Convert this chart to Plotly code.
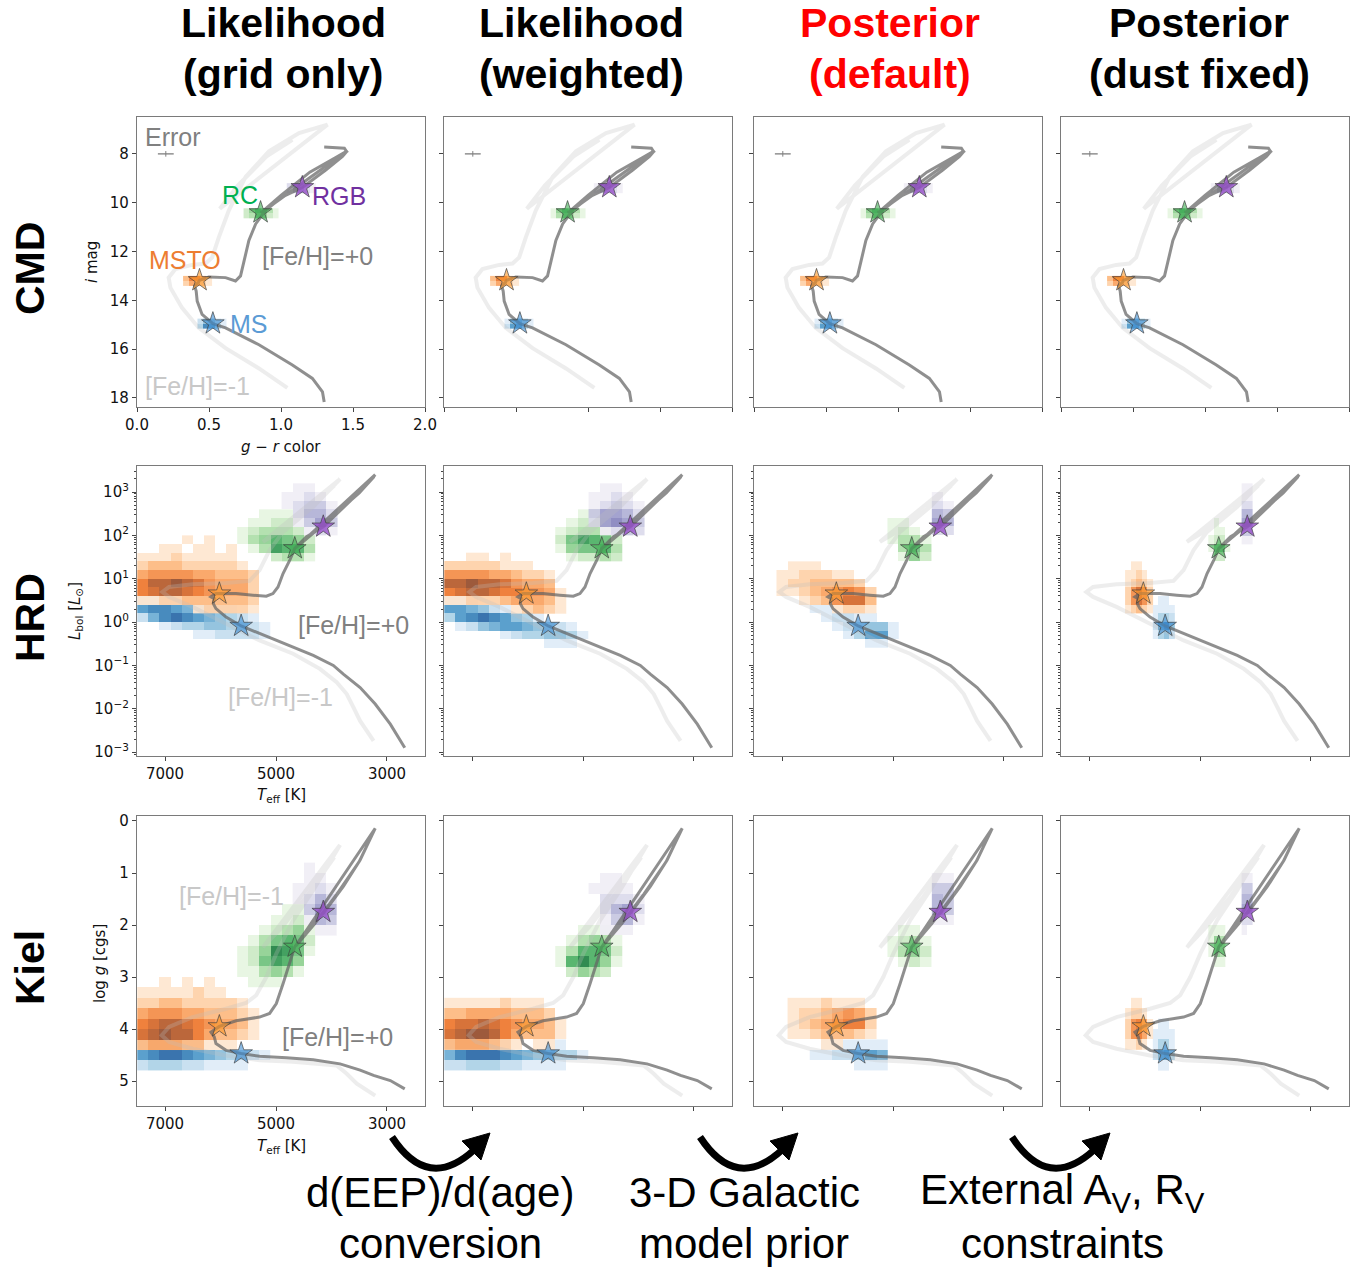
import numpy as np
import plotly.graph_objects as go

# ---------------------------------------------------------------- isochrones
# [Fe/H]=+0 and [Fe/H]=-1 tracks (MS -> subgiant -> RGB tip -> red clump -> AGB)
CMD_P0_GR = [1.300, 1.288, 1.218, 1.079, 0.847, 0.615, 0.527, 0.452, 0.418, 0.411, 0.400, 0.425, 0.434,
             0.499, 0.615, 0.684, 0.719, 0.742, 0.777, 0.824, 0.893, 1.009, 1.148, 1.311, 1.427, 1.462,
             0.860, 1.000, 1.200, 1.380, 1.455, 1.440, 1.300]
CMD_P0_I = [18.17, 17.75, 17.20, 16.65, 15.82, 15.13, 14.96, 14.58, 14.03, 13.62, 13.41, 13.28, 13.18,
            13.04, 13.07, 13.21, 13.00, 12.38, 11.55, 10.87, 10.31, 9.76, 9.38, 8.66, 8.11, 7.86,
            10.42, 9.70, 8.75, 8.15, 7.90, 7.77, 7.72]
CMD_M1_GR = [1.044, 0.847, 0.615, 0.429, 0.313, 0.232, 0.220, 0.267, 0.383, 0.476, 0.522, 0.568, 0.638,
             0.754, 0.916, 1.125, 1.323, 0.575, 0.700, 0.900, 1.079]
CMD_M1_I = [17.59, 16.79, 15.96, 15.13, 14.31, 13.48, 13.07, 12.72, 12.55, 12.49, 12.24, 11.42, 10.31,
            8.94, 7.90, 7.15, 6.80, 10.25, 9.30, 8.10, 7.42]

HRD_P0_T = [2680, 2940, 3212, 3484, 3786, 3967, 4329, 4692, 5055, 5417, 5628, 5900, 6082, 6130, 6112,
            6172, 6082, 6021, 5719, 5417, 5175, 5055, 4964, 4873, 4752, 4662, 4450, 4148, 3786, 3484,
            3212, 4640, 4300, 3900, 3500, 3230]
HRD_P0_LOGL = [-2.90, -2.355, -1.89, -1.51, -1.20, -1.00, -0.77, -0.58, -0.386, -0.21, -0.09, 0.116,
               0.31, 0.425, 0.54, 0.58, 0.656, 0.656, 0.656, 0.62, 0.595, 0.656, 0.81, 1.12, 1.43, 1.70,
               1.97, 2.20, 2.63, 3.01, 3.40, 1.72, 2.08, 2.53, 2.98, 3.36]
HRD_M1_T = [3242, 3484, 3604, 3725, 3907, 4209, 4692, 5296, 5900, 6505, 6927, 7048, 6927, 6505, 5900,
            5477, 5296, 5115, 4873, 4329, 3846, 5236, 4873, 4400, 3950]
HRD_M1_LOGL = [-2.74, -2.28, -1.97, -1.66, -1.39, -1.08, -0.73, -0.425, -0.04, 0.35, 0.58, 0.695, 0.81,
               0.87, 0.90, 0.95, 1.20, 1.66, 2.08, 2.66, 3.30, 1.85, 2.12, 2.60, 3.15]

KIEL_P0_T = [2680, 2940, 3242, 3484, 3846, 4329, 4813, 5296, 5628, 5900, 6082, 6112, 6172, 6082, 6021,
             5719, 5296, 5115, 4994, 4873, 4752, 4662, 4450, 4130, 3786, 3484, 3212, 4640, 4300, 3900,
             3500, 3230]
KIEL_P0_LOGG = [5.15, 4.99, 4.89, 4.79, 4.67, 4.59, 4.55, 4.525, 4.47, 4.41, 4.28, 4.15, 4.06, 3.99,
                3.95, 3.84, 3.77, 3.70, 3.51, 3.13, 2.74, 2.42, 2.10, 1.75, 1.26, 0.75, 0.14, 2.40, 1.97,
                1.40, 0.78, 0.18]
KIEL_M1_T = [3212, 3544, 3725, 3907, 4692, 5296, 5900, 6505, 6927, 7060, 6927, 6505, 5900, 5538, 5357,
             5175, 4994, 4692, 4329, 3846, 5236, 4900, 4450, 3950]
KIEL_M1_LOGG = [5.28, 5.05, 4.86, 4.70, 4.63, 4.60, 4.51, 4.38, 4.25, 4.12, 3.96, 3.77, 3.61, 3.50, 3.35,
                3.00, 2.55, 1.91, 1.33, 0.46, 2.43, 2.05, 1.45, 0.70]

# ---------------------------------------------------------------- mock stars
STARS = ["MS", "MSTO", "RC", "RGB"]
STAR_GR = [0.527, 0.434, 0.858, 1.148]
STAR_I = [14.95, 13.18, 10.40, 9.37]
STAR_T = [5628, 6021, 4662, 4148]
STAR_LOGL = [-0.09, 0.656, 1.70, 2.20]
STAR_LOGG = [4.47, 3.95, 2.42, 1.75]

ERR_GR = 0.055      # photometric colour error shown in the CMD
ERR_POS = (0.2, 8.0)

# ---------------------------------------------------------------- sample clouds
# Binned density (levels 0-9) of each star's samples:
# (first bin centre x, x step, first bin centre y, y step, rows of levels)
CMD_CLOUDS = [
    {"MS": (0.44, 0.04, 14.85, 0.2, ["24421", "37631"]),
     "MSTO": (0.34, 0.04, 13.1, 0.2, ["36641", "24421"]),
     "RC": (0.76, 0.04, 10.33, 0.2, ["246531", "235421"]),
     "RGB": (1.06, 0.04, 9.30, 0.2, ["24531", "13421"])},
    {"MS": (0.44, 0.04, 14.85, 0.2, ["14531", "26631"]),
     "MSTO": (0.34, 0.04, 13.1, 0.2, ["36631", "24321"]),
     "RC": (0.76, 0.04, 10.33, 0.2, ["146531", "135321"]),
     "RGB": (1.06, 0.04, 9.30, 0.2, ["14531", "13321"])},
    {"MS": (0.44, 0.04, 14.85, 0.2, ["14531", "26631"]),
     "MSTO": (0.34, 0.04, 13.1, 0.2, ["36631", "24321"]),
     "RC": (0.76, 0.04, 10.33, 0.2, ["146531", "135321"]),
     "RGB": (1.06, 0.04, 9.30, 0.2, ["14531", "13321"])},
    {"MS": (0.44, 0.04, 14.85, 0.2, ["14531", "26631"]),
     "MSTO": (0.34, 0.04, 13.1, 0.2, ["36631", "24321"]),
     "RC": (0.76, 0.04, 10.33, 0.2, ["146531", "135321"]),
     "RGB": (1.06, 0.04, 9.30, 0.2, ["14531", "13321"])},
]

HRD_CLOUDS = [
    {"MSTO": (7400, -200, 1.9, -0.2, ["000010100000", "001101101000", "111211111000", "233322222100",
                                      "455554433320", "688987544420", "678876544420", "112233333320",
                                      "000001222210"]),
     "MS": (7400, -200, 0.5, -0.2, ["221100000000", "677654211000", "257876543210", "001233443321",
                                    "000001122221"]),
     "RC": (5600, -200, 2.5, -0.2, ["0011100", "0112210", "1233320", "1346542", "0137663", "0002331"]),
     "RGB": (4800, -200, 3.1, -0.2, ["01100", "11210", "12331", "02442", "01353", "00121"])},
    {"MSTO": (7400, -200, 1.5, -0.2, ["00110100000", "22222111000", "55554432210", "88988754430",
                                      "67887665541", "11222344431", "00000012321"]),
     "MS": (7400, -200, 0.5, -0.2, ["2210000000000", "6654210000000", "3678764310000", "0124566543210",
                                    "0000012334431", "0000000001110"]),
     "RC": (5400, -200, 2.5, -0.2, ["001100", "012210", "123320", "257652", "145563", "012232"]),
     "RGB": (4800, -200, 3.1, -0.2, ["01100", "11210", "12321", "35542", "25653", "01232"])},
    {"MSTO": (7000, -200, 1.3, -0.2, ["011100000", "112221100", "122333320", "112345652", "001235773",
                                      "000001221"]),
     "MS": (6400, -200, 0.3, -0.2, ["11100000", "01221100", "00123441", "00013661", "00000110"]),
     "RC": (5000, -200, 2.3, -0.2, ["1100", "1210", "1331", "0353", "0142"]),
     "RGB": (4200, -200, 2.9, -0.2, ["10", "21", "43", "54", "22"])},
    {"MSTO": (6300, -100, 1.3, -0.2, ["01100", "11210", "12321", "25752", "25752", "12321"]),
     "MS": (5800, -100, 0.5, -0.2, ["0110", "1111", "1332", "2674", "1342"]),
     "RC": (4800, -100, 2.3, -0.2, ["0100", "0110", "1220", "1551", "0220"]),
     "RGB": (4200, -100, 3.1, -0.2, ["11", "11", "22", "44", "55", "33", "11"])},
]

KIEL_CLOUDS = [
    {"MSTO": (7400, -200, 3.1, 0.2, ["00101010000", "11111211000", "22332222210", "45554433321",
                                     "67887654431", "78988643321", "34443311100"]),
     "MS": (7400, -200, 4.3, 0.2, ["111111000000", "678876543321", "233322111100"]),
     "RC": (5600, -200, 1.7, 0.2, ["0000110", "0001121", "0012341", "0135652", "1248751", "1257640",
                                   "1134310", "0111000"]),
     "RGB": (4600, -200, 0.9, 0.2, ["0100", "0110", "1121", "1242", "0354", "0143", "0011"])},
    {"MSTO": (7400, -200, 3.5, 0.2, ["11111211100", "33444433320", "67787654431", "78998643331",
                                     "34443210110"]),
     "MS": (7400, -200, 4.3, 0.2, ["1111110001100", "5788876544331", "2233322111100"]),
     "RC": (5400, -200, 2.1, 0.2, ["001110", "013431", "136652", "168641", "024320"]),
     "RGB": (4800, -200, 1.1, 0.2, ["01100", "11110", "02221", "02452", "01341", "01110"])},
    {"MSTO": (6800, -200, 3.5, 0.2, ["11121110", "12234542", "12345662", "11233321", "00011000"]),
     "MS": (6400, -200, 4.3, 0.2, ["0111111", "1122465", "0000111"]),
     "RC": (5000, -200, 2.1, 0.2, ["0110", "1231", "1342", "0121"]),
     "RGB": (4200, -200, 1.1, 0.2, ["11", "33", "43", "43", "11"])},
    {"MSTO": (6300, -100, 3.5, 0.2, ["01100", "12210", "25641", "25641", "11210"]),
     "MS": (5800, -100, 3.9, 0.2, ["0110", "1111", "1331", "2563", "0110"]),
     "RC": (4800, -100, 2.1, 0.2, ["111", "143", "143", "011"]),
     "RGB": (4200, -100, 1.1, 0.2, ["11", "33", "44", "55", "22", "10"])},
]

COLUMN_TITLES = [("Likelihood", "(grid only)"), ("Likelihood", "(weighted)"),
                 ("Posterior", "(default)"), ("Posterior", "(dust fixed)")]
ROW_TITLES = ["CMD", "HRD", "Kiel"]
STEP_TEXT = [("d(EEP)/d(age)", "conversion"), ("3-D Galactic", "model prior"),
             ("External A<sub>V</sub>, R<sub>V</sub>", "constraints")]

# ---------------------------------------------------------------- styling
W, H = 1367, 1271
COL_LEFT = [137, 444, 754, 1061]
PANEL_W = 288
ROW_TOP = [117, 466, 816]
PANEL_H = 290

SCALES = {
    "MS": [[0, "rgba(222,235,247,0.9)"], [0.3, "rgba(158,202,225,0.9)"],
           [0.65, "rgba(66,146,198,0.9)"], [1, "rgba(25,80,150,0.93)"]],
    "MSTO": [[0, "rgba(254,230,206,0.9)"], [0.3, "rgba(253,174,107,0.9)"],
             [0.65, "rgba(236,110,35,0.9)"], [1, "rgba(150,78,45,0.93)"]],
    "RC": [[0, "rgba(229,245,224,0.9)"], [0.3, "rgba(161,217,155,0.9)"],
           [0.65, "rgba(65,171,93,0.9)"], [1, "rgba(10,105,50,0.93)"]],
    "RGB": [[0, "rgba(239,237,245,0.9)"], [0.3, "rgba(188,189,220,0.9)"],
            [0.65, "rgba(128,125,186,0.9)"], [1, "rgba(80,30,140,0.93)"]],
}
STAR_FILL = {"MS": "rgba(60,140,210,0.6)", "MSTO": "rgba(250,150,40,0.6)",
             "RC": "rgba(60,170,80,0.6)", "RGB": "rgba(150,80,200,0.8)"}
LABEL_COLOR = {"MS": "#5b9bd5", "MSTO": "#ed7d31", "RC": "#00b050", "RGB": "#7030a0"}
P0_COLOR = "rgba(100,100,100,0.72)"
M1_COLOR = "rgba(190,190,190,0.28)"
SANS = "Liberation Sans, Arial, sans-serif"
TICKFONT = dict(family="DejaVu Sans", size=15, color="#111")


def fx(p):
    return p / W


def fy(p):
    return 1 - p / H


def ax_names(i):
    s = "" if i == 1 else str(i)
    return "x" + s, "y" + s


def cloud_trace(spec, star, i):
    x0, dx, y0, dy, rows = spec
    z = np.array([[int(ch) for ch in row] for row in rows], dtype=float)
    z[z == 0] = np.nan
    xs = x0 + dx * np.arange(z.shape[1])
    ys = y0 + dy * np.arange(z.shape[0])
    if dx < 0:
        xs, z = xs[::-1], z[:, ::-1]
    if dy < 0:
        ys, z = ys[::-1], z[::-1, :]
    xa, ya = ax_names(i)
    zl = [[None if np.isnan(v) else v for v in r] for r in z]
    return go.Heatmap(x=xs.tolist(), y=ys.tolist(), z=zl, colorscale=SCALES[star], zmin=1, zmax=9,
                      showscale=False, hoverinfo="skip", xaxis=xa, yaxis=ya)


fig = go.Figure()

panels = [
    (CMD_CLOUDS, (CMD_M1_GR, CMD_M1_I), (CMD_P0_GR, CMD_P0_I), (STAR_GR, STAR_I)),
    (HRD_CLOUDS, (HRD_M1_T, HRD_M1_LOGL), (HRD_P0_T, HRD_P0_LOGL), (STAR_T, STAR_LOGL)),
    (KIEL_CLOUDS, (KIEL_M1_T, KIEL_M1_LOGG), (KIEL_P0_T, KIEL_P0_LOGG), (STAR_T, STAR_LOGG)),
]

for r, (clouds, iso_m1, iso_p0, stars) in enumerate(panels):
    for c in range(4):
        i = r * 4 + c + 1
        xa, ya = ax_names(i)
        for s in STARS:
            fig.add_trace(cloud_trace(clouds[c][s], s, i))
        fig.add_trace(go.Scatter(x=iso_m1[0], y=iso_m1[1], mode="lines",
                                 line=dict(color=M1_COLOR, width=4), hoverinfo="skip",
                                 xaxis=xa, yaxis=ya))
        fig.add_trace(go.Scatter(x=iso_p0[0], y=iso_p0[1], mode="lines",
                                 line=dict(color=P0_COLOR, width=3), hoverinfo="skip",
                                 xaxis=xa, yaxis=ya))
        fig.add_trace(go.Scatter(x=stars[0], y=stars[1], mode="markers",
                                 marker=dict(symbol="star", size=17,
                                             color=[STAR_FILL[s] for s in STARS],
                                             line=dict(color="rgba(60,60,60,0.65)", width=1)),
                                 hoverinfo="skip", xaxis=xa, yaxis=ya))
        if r == 0:
            fig.add_trace(go.Scatter(x=[ERR_POS[0]], y=[ERR_POS[1]], mode="markers",
                                     marker=dict(symbol="line-ns-open", size=4, color="#808080",
                                                 line=dict(color="#808080", width=1)),
                                     error_x=dict(type="data", array=[ERR_GR], thickness=1.5,
                                                  width=0, color="#909090"),
                                     hoverinfo="skip", xaxis=xa, yaxis=ya))

# ---------------------------------------------------------------- axes
minor_logl = [n + np.log10(k) for n in range(-4, 4) for k in range(2, 10)]
minor_logl = [v for v in minor_logl if -3.09 < v < 3.6]
axis_style = dict(showline=True, mirror=True, linecolor="#7a7a7a", linewidth=1.2, ticks="outside",
                  ticklen=4, tickwidth=1, tickcolor="#444", showgrid=False, zeroline=False,
                  tickfont=TICKFONT, fixedrange=True)

layout_axes = {}
for r in range(3):
    for c in range(4):
        i = r * 4 + c + 1
        s = "" if i == 1 else str(i)
        xd = [fx(COL_LEFT[c]), fx(COL_LEFT[c] + PANEL_W)]
        yd = [fy(ROW_TOP[r] + PANEL_H), fy(ROW_TOP[r])]
        xax = dict(axis_style, domain=xd, anchor="y" + s, showticklabels=(c == 0))
        yax = dict(axis_style, domain=yd, anchor="x" + s, showticklabels=(c == 0))
        if r == 0:
            xax.update(range=[0, 2.0], tickvals=[0, 0.5, 1.0, 1.5, 2.0],
                       ticktext=["0.0", "0.5", "1.0", "1.5", "2.0"])
            yax.update(range=[18.37, 6.49], tickvals=[8, 10, 12, 14, 16, 18])
        else:
            xax.update(range=[7505, 2315], tickvals=[7000, 5000, 3000])
            if r == 1:
                yax.update(range=[-3.09, 3.6], tickvals=list(range(-3, 4)),
                           ticktext=["10<sup>%s</sup>" % (str(v).replace("-", "\u2212"))
                                     for v in range(-3, 4)],
                           minor=dict(tickmode="array", tickvals=minor_logl, ticks="outside",
                                      ticklen=2, tickcolor="#444"))
            else:
                yax.update(range=[5.48, -0.096], tickvals=[0, 1, 2, 3, 4, 5])
        layout_axes["xaxis" + s] = xax
        layout_axes["yaxis" + s] = yax

# ---------------------------------------------------------------- text
ann = []


def text(x, y, t, size, color="#000", family=SANS, angle=0):
    ann.append(dict(x=fx(x), y=fy(y), xref="paper", yref="paper", text=t, showarrow=False,
                    xanchor="center", yanchor="middle", textangle=angle,
                    font=dict(family=family, size=size, color=color)))


col_centres = [283, 581, 890, 1199]
for c, (l1, l2) in enumerate(COLUMN_TITLES):
    colr = "#ff0000" if c == 2 else "#000"
    text(col_centres[c], 23, "<b>%s</b>" % l1, 41, colr)
    text(col_centres[c], 74, "<b>%s</b>" % l2, 41, colr)

for r, t in enumerate(ROW_TITLES):
    text(30, ROW_TOP[r] + 152, "<b>%s</b>" % t, 41, angle=-90)

# axis titles of the first column
text(281, 447, "<i>g</i> \u2212 <i>r</i> color", 15, "#111", "DejaVu Sans")
text(92, 262, "<i>i</i> mag", 15, "#111", "DejaVu Sans", -90)
text(281, 796, "<i>T</i><sub>eff</sub> [K]", 15, "#111", "DejaVu Sans")
text(75, 611, "<i>L</i><sub>bol</sub> [<i>L</i><sub>\u2299</sub>]", 15, "#111", "DejaVu Sans", -90)
text(281, 1146, "<i>T</i><sub>eff</sub> [K]", 15, "#111", "DejaVu Sans")
text(100, 963, "log <i>g</i> [cgs]", 15, "#111", "DejaVu Sans", -90)

# in-panel labels
text(173, 137, "Error", 25, "#808080")
text(240, 195, "RC", 25, LABEL_COLOR["RC"])
text(339, 196, "RGB", 25, LABEL_COLOR["RGB"])
text(185, 260, "MSTO", 25, LABEL_COLOR["MSTO"])
text(317, 256, "[Fe/H]=+0", 25, "#808080")
text(249, 324, "MS", 25, LABEL_COLOR["MS"])
text(198, 386, "[Fe/H]=-1", 25, "#c8c8c8")
text(353, 625, "[Fe/H]=+0", 25, "#808080")
text(280, 697, "[Fe/H]=-1", 25, "#c8c8c8")
text(231, 896, "[Fe/H]=-1", 25, "#c8c8c8")
text(337, 1037, "[Fe/H]=+0", 25, "#808080")

# processing steps below the grid
narrow = "Liberation Sans Narrow, Arial Narrow, Liberation Sans, sans-serif"
step_centres = [440, 744, 1062]
for k, (l1, l2) in enumerate(STEP_TEXT):
    text(step_centres[k], 1192, l1, 42, "#000", narrow)
    text(step_centres[k], 1243, l2, 42, "#000", narrow)

# curved arrows between the columns
shapes = []


def P(x, y):
    return "%.5f,%.5f" % (fx(x), fy(y))


for off in [0, 308, 620]:
    shapes.append(dict(type="path", xref="paper", yref="paper",
                       path="M %s Q %s %s" % (P(392 + off, 1137), P(428 + off, 1192), P(474 + off, 1150)),
                       line=dict(color="#000", width=7)))
    shapes.append(dict(type="path", xref="paper", yref="paper",
                       path="M %s L %s L %s Z" % (P(490 + off, 1133), P(462 + off, 1141), P(481 + off, 1160)),
                       fillcolor="#000", line=dict(color="#000", width=1)))

fig.update_layout(width=W, height=H,
                  margin=dict(l=0, r=0, t=0, b=0, pad=0, autoexpand=False),
                  showlegend=False, plot_bgcolor="white", paper_bgcolor="white",
                  annotations=ann, shapes=shapes, **layout_axes)

fig.write_html("out.html")
